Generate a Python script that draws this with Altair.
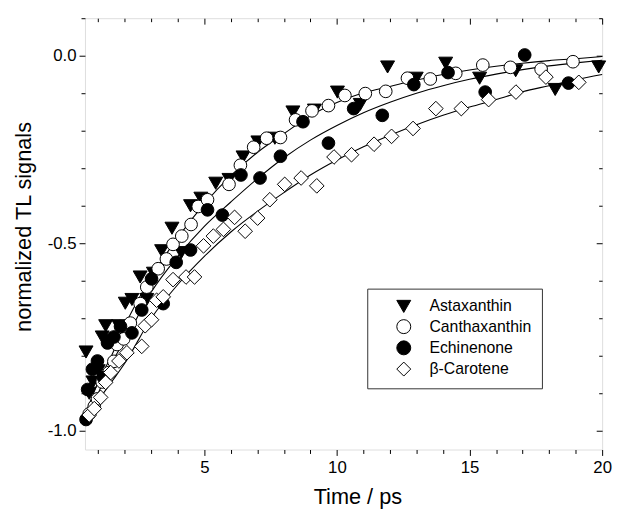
import altair as alt
import pandas as pd

# ---------------- data ----------------
series_names = ["Astaxanthin", "Canthaxanthin", "Echinenone", "β-Carotene"]
series_shapes = ["triangle-down", "circle", "circle", "diamond"]
series_fills = ["black", "white", "black", "white"]

ast_t = [0.54, 0.66, 0.80, 1.00, 1.15, 1.28, 1.47, 1.77, 2.02, 2.27, 2.58, 2.83, 3.08, 3.39,
         3.78, 4.13, 4.48, 4.87, 5.43, 5.93, 6.46, 7.02, 7.66, 8.34, 9.15, 10.02, 10.88,
         11.91, 12.99, 14.10, 15.38, 16.74, 18.23, 19.87]
ast_v = [-0.79, -0.90, -0.87, -0.84, -0.75, -0.72, -0.76, -0.72, -0.66, -0.65, -0.59, -0.65,
         -0.58, -0.52, -0.46, -0.525, -0.40, -0.38, -0.34, -0.33, -0.27, -0.23, -0.22, -0.15,
         -0.145, -0.097, -0.13, -0.03, -0.06, -0.02, -0.06, -0.04, -0.09, -0.03]

can_t = [0.66, 0.85, 0.97, 1.15, 1.40, 1.59, 1.71, 1.96, 2.21, 2.58, 2.83, 3.26, 3.57, 3.82,
         4.15, 4.50, 4.77, 5.12, 5.93, 6.36, 6.86, 7.35, 7.87, 8.44, 9.06, 9.68, 10.30, 11.07,
         11.84, 12.66, 13.52, 14.48, 15.50, 16.54, 17.70, 18.90]
can_v = [-0.955, -0.935, -0.915, -0.87, -0.845, -0.815, -0.77, -0.755, -0.713, -0.661, -0.617,
         -0.568, -0.542, -0.503, -0.481, -0.450, -0.402, -0.384, -0.343, -0.292, -0.244, -0.220,
         -0.218, -0.171, -0.147, -0.133, -0.106, -0.101, -0.095, -0.060, -0.062, -0.047, -0.025,
         -0.031, -0.036, -0.016]

ech_t = [0.54, 0.60, 0.78, 0.97, 1.20, 1.35, 1.59, 1.84, 2.27, 2.64, 3.01, 3.45, 3.94, 4.48,
         5.12, 5.68, 6.38, 7.10, 7.87, 8.72, 9.68, 10.63, 11.71, 12.90, 14.19, 15.59, 17.08, 18.73]
ech_v = [-0.97, -0.89, -0.836, -0.814, -0.858, -0.766, -0.75, -0.722, -0.739, -0.678, -0.595,
         -0.661, -0.551, -0.518, -0.411, -0.425, -0.318, -0.326, -0.268, -0.176, -0.233, -0.141,
         -0.159, -0.077, -0.045, -0.097, 0.002, -0.073]

car_t = [0.66, 0.85, 1.09, 1.28, 1.47, 1.78, 2.08, 2.64, 2.77, 3.01, 3.20, 3.45, 3.82, 4.31,
         4.63, 4.97, 5.34, 5.72, 6.14, 6.54, 7.01, 7.47, 8.03, 8.65, 9.24, 9.89, 10.55, 11.40,
         12.06, 12.87, 13.73, 14.69, 15.72, 16.75, 17.88, 19.12]
car_v = [-0.958, -0.941, -0.911, -0.871, -0.845, -0.814, -0.792, -0.775, -0.720, -0.704, -0.652,
         -0.643, -0.597, -0.590, -0.590, -0.507, -0.481, -0.463, -0.431, -0.468, -0.433, -0.384,
         -0.343, -0.326, -0.347, -0.270, -0.264, -0.236, -0.215, -0.194, -0.141, -0.141, -0.117,
         -0.097, -0.057, -0.071]

# fitted curves, read at these times
fit_t = [0.5, 1.0, 1.5, 2.0, 3.0, 4.0, 5.0, 6.0, 7.0, 8.0, 9.0, 10.0, 11.0, 12.0, 13.0, 14.0,
         15.0, 16.0, 17.0, 18.0, 19.0, 20.0]
fit_upper = [-0.96, -0.87, -0.80, -0.72, -0.59, -0.485, -0.395, -0.32, -0.258, -0.208, -0.160,
             -0.125, -0.099, -0.082, -0.065, -0.050, -0.038, -0.028, -0.020, -0.013, -0.008, -0.002]
fit_middle = [-0.98, -0.90, -0.82, -0.76, -0.63, -0.535, -0.455, -0.39, -0.328, -0.272, -0.225,
              -0.186, -0.152, -0.124, -0.100, -0.080, -0.063, -0.049, -0.037, -0.027, -0.019, -0.012]
fit_lower = [-0.98, -0.92, -0.87, -0.82, -0.70, -0.61, -0.535, -0.47, -0.415, -0.365, -0.318,
             -0.278, -0.243, -0.212, -0.184, -0.159, -0.137, -0.117, -0.096, -0.080, -0.064, -0.050]

x_ticks = list(range(1, 21))
y_ticks = [-1.0, -0.9, -0.8, -0.7, -0.6, -0.5, -0.4, -0.3, -0.2, -0.1, 0.0, 0.1]

# ---------------- tables ----------------
rows = []
for name, ts, vs in zip(series_names, [ast_t, can_t, ech_t, car_t], [ast_v, can_v, ech_v, car_v]):
    for t, v in zip(ts, vs):
        rows.append({"t": t, "v": v, "series": name})
pts = pd.DataFrame(rows)

frows = []
for name, vs in [("upper", fit_upper), ("middle", fit_middle), ("lower", fit_lower)]:
    for t, v in zip(fit_t, vs):
        frows.append({"t": t, "v": v, "fit": name})
fits = pd.DataFrame(frows)

W, H = 524, 437
FONT = "Liberation Sans"

xscale = alt.Scale(domain=[0.5, 20], nice=False, zero=False)
yscale = alt.Scale(domain=[-1.05, 0.1], nice=False, zero=False)

x_major = "datum.value % 5 === 0"
y_major = "round(datum.value * 10) % 5 === 0"

x_bottom = alt.Axis(
    values=x_ticks, orient="bottom", grid=False, domain=False,
    tickColor="black", tickWidth=1,
    tickSize={"condition": {"test": x_major, "value": 6}, "value": 4},
    labelExpr=f"{x_major} ? '' + datum.value : ''",
    labelFont=FONT, labelFontSize=17, labelColor="black", labelPadding=4,
    labelFlush=False, labelOverlap=False,
    title="Time / ps", titleFont=FONT, titleFontSize=22, titleFontWeight="normal",
    titleColor="black", titleX=276, titleY=55, titleAlign="center",
    titleBaseline="alphabetic",
)
y_left = alt.Axis(
    values=y_ticks, orient="left", grid=False, domain=False,
    tickColor="black", tickWidth=1,
    tickSize={"condition": {"test": y_major, "value": 6}, "value": 4},
    labelExpr=f"{y_major} ? (datum.value < -0.001 ? '-' : '') + format(abs(datum.value), '.1f') : ''",
    labelFont=FONT, labelFontSize=17, labelColor="black", labelPadding=3,
    labelFlush=False, labelOverlap=False,
    title="normalized TL signals", titleFont=FONT, titleFontSize=22, titleFontWeight="normal",
    titleColor="black", titleX=-55, titleY=211, titleAngle=270, titleAlign="center",
    titleBaseline="alphabetic",
)
x_top = alt.Axis(
    values=x_ticks, orient="bottom", offset=-H, grid=False, domain=False, labels=False,
    tickColor="black", tickWidth=1,
    tickSize={"condition": {"test": x_major, "value": 6}, "value": 3.5},
    title=None,
)
y_right = alt.Axis(
    values=y_ticks, orient="left", offset=-W, grid=False, domain=False, labels=False,
    tickColor="black", tickWidth=1,
    tickSize={"condition": {"test": y_major, "value": 6}, "value": 3.5},
    title=None,
)

legend = alt.Legend(
    title=None, orient="none", legendX=286, legendY=274,
    strokeColor="#333333", fillColor="white", padding=10,
    symbolOffset=19, labelOffset=18, labelFont=FONT, labelFontSize=16, labelColor="black",
    symbolSize=200, symbolStrokeColor="black", symbolStrokeWidth=1, symbolOpacity=1,
    symbolFillColor="white", rowPadding=1.5,
)

lines = alt.Chart(fits).mark_line(color="black", strokeWidth=1.1, interpolate="monotone").encode(
    x=alt.X("t:Q", scale=xscale, axis=x_top),
    y=alt.Y("v:Q", scale=yscale, axis=y_right),
    detail="fit:N",
)

points = alt.Chart(pts).transform_calculate(
    sz="datum.series === 'β-Carotene' ? 220 : (datum.series === 'Astaxanthin' ? 200 : 165)"
).mark_point(filled=False, color="black", stroke="black", strokeWidth=1, opacity=1,
             fillOpacity=1, strokeOpacity=1).encode(
    x=alt.X("t:Q", scale=xscale, axis=x_bottom),
    y=alt.Y("v:Q", scale=yscale, axis=y_left),
    shape=alt.Shape("series:N", scale=alt.Scale(domain=series_names, range=series_shapes), legend=legend),
    fill=alt.Fill("series:N", scale=alt.Scale(domain=series_names, range=series_fills), legend=legend),
    size=alt.Size("sz:Q", scale=None),
)

chart = alt.layer(lines, points).resolve_axis(x="independent", y="independent").properties(
    width=W, height=H,
    autosize=alt.AutoSizeParams(type="none"),
    padding={"left": 78, "top": 7, "right": 11, "bottom": 62},
).configure_view(stroke="black", strokeWidth=1).configure(background="white")

chart.save("out.html", embed_options={"renderer": "svg", "actions": False})
